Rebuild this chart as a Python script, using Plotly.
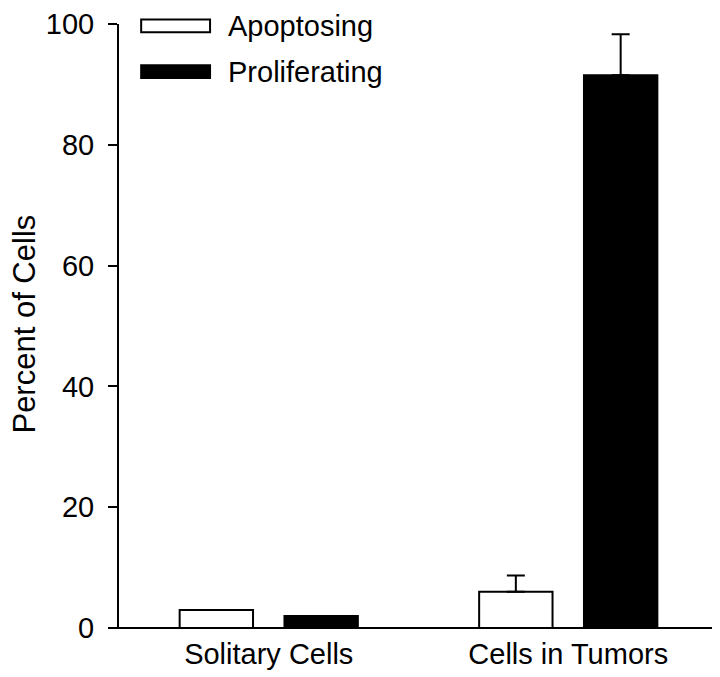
import plotly.graph_objects as go

categories = ["Solitary Cells", "Cells in Tumors"]
apoptosing = [3.0, 6.0]
apoptosing_err = [None, 2.7]
proliferating = [2.0, 91.5]
proliferating_err = [None, 6.8]
series_names = ["Apoptosing", "Proliferating"]
y_ticks = [0, 20, 40, 60, 80, 100]
y_title = "Percent of Cells"

FONT = "Liberation Sans, Arial, sans-serif"
FS = 29

fig = go.Figure()
fig.add_trace(go.Bar(
    x=categories, y=apoptosing, name=series_names[0],
    marker=dict(color="white", line=dict(color="black", width=2)),
    error_y=dict(type="data", array=apoptosing_err, arrayminus=[0, 0], symmetric=False,
                 color="black", thickness=2, width=9),
    showlegend=False,
))
fig.add_trace(go.Bar(
    x=categories, y=proliferating, name=series_names[1],
    marker=dict(color="black", line=dict(color="black", width=2)),
    error_y=dict(type="data", array=proliferating_err, arrayminus=[0, 0], symmetric=False,
                 color="black", thickness=2, width=9),
    showlegend=False,
))

# custom legend
legend_items = [(series_names[0], "white", 0.997), (series_names[1], "black", 0.921)]
for name, col, yc in legend_items:
    fig.add_shape(type="rect", xref="paper", yref="paper",
                  x0=0.037, x1=0.152, y0=yc - 0.0105, y1=yc + 0.0105,
                  fillcolor=col, line=dict(color="black", width=2))
    fig.add_annotation(text=name, xref="paper", yref="paper", x=0.178, y=yc,
                       xanchor="left", yanchor="middle", showarrow=False,
                       font=dict(family=FONT, size=FS, color="black"))

# y-axis title
fig.add_annotation(text=y_title, xref="paper", yref="paper", x=-0.158, y=0.503,
                   xanchor="center", yanchor="middle", textangle=-90, showarrow=False,
                   font=dict(family=FONT, size=31, color="black"))

# extend x axis line to the left like the original
fig.add_shape(type="line", xref="paper", yref="paper", x0=-0.016, x1=1, y0=0, y1=0,
              line=dict(color="black", width=2))

fig.update_layout(
    width=720, height=677,
    margin=dict(l=111, r=10, t=16, b=57),
    paper_bgcolor="white", plot_bgcolor="white",
    barmode="group", bargap=0.3, bargroupgap=0.3,
    font=dict(family=FONT, size=FS, color="black"),
    xaxis=dict(range=[-0.5, 1.5], showline=False, ticks="", showgrid=False,
               tickfont=dict(size=FS), ticklabelstandoff=6, zeroline=False,
               automargin=False),
    yaxis=dict(range=[0, 100], tickvals=y_ticks, showline=True, linecolor="black",
               linewidth=2, ticks="outside", ticklen=9, tickwidth=2, tickcolor="black",
               showgrid=False, zeroline=False, tickfont=dict(size=FS),
               ticklabelstandoff=8, automargin=False, ticklabeloverflow="allow"),
)

fig.write_html("out.html")
